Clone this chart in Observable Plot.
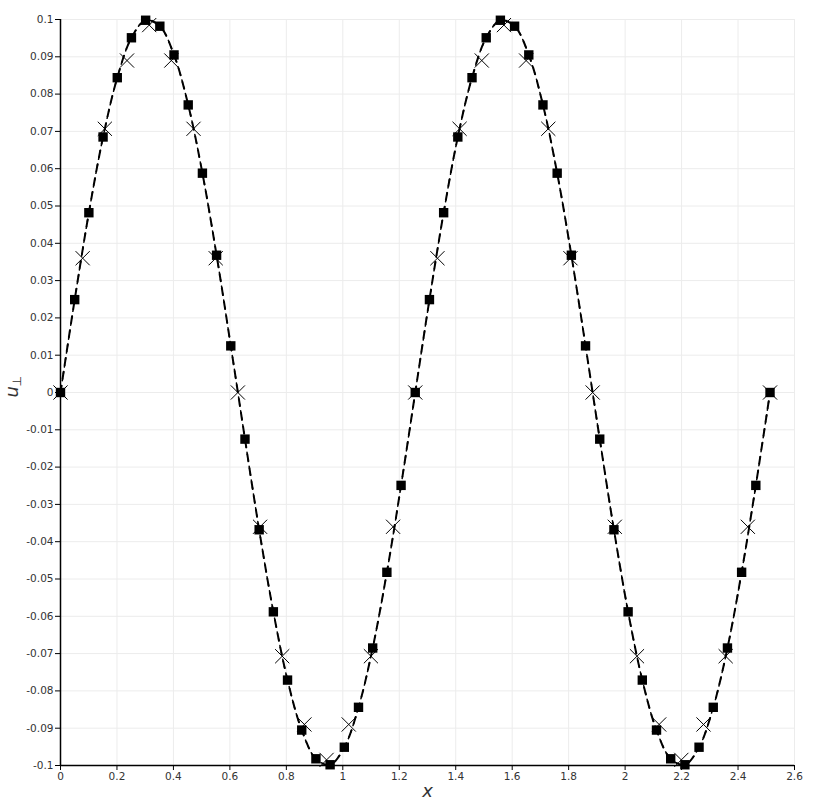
<!DOCTYPE html>
<html>
<head>
<meta charset="utf-8">
<script src="https://cdn.jsdelivr.net/npm/d3@7"></script>
<script src="https://cdn.jsdelivr.net/npm/@observablehq/plot@0.6"></script>
<style>
  html, body { margin: 0; padding: 0; background: #fff; }
  #chart svg { display: block; }
</style>
</head>
<body>
<div id="chart"></div>
<script>
// Square markers
const squareX = [0, 0.0503, 0.1005, 0.1508, 0.2011, 0.2513, 0.3016, 0.3519, 0.4021, 0.4524,
  0.5027, 0.5529, 0.6032, 0.6535, 0.7037, 0.7540, 0.8042, 0.8545, 0.9048, 0.9550,
  1.0053, 1.0556, 1.1058, 1.1561, 1.2064, 1.2566, 1.3069, 1.3572, 1.4074, 1.4577,
  1.5080, 1.5582, 1.6085, 1.6588, 1.7090, 1.7593, 1.8096, 1.8598, 1.9101, 1.9604,
  2.0106, 2.0609, 2.1112, 2.1614, 2.2117, 2.2619, 2.3122, 2.3625, 2.4127, 2.4630, 2.5133];
const squareU = [0, 0.0249, 0.0482, 0.0685, 0.0844, 0.0951, 0.0998, 0.0982, 0.0905, 0.0771,
  0.0588, 0.0368, 0.0125, -0.0125, -0.0368, -0.0588, -0.0771, -0.0905, -0.0982, -0.0998,
  -0.0951, -0.0844, -0.0685, -0.0482, -0.0249, 0, 0.0249, 0.0482, 0.0685, 0.0844,
  0.0951, 0.0998, 0.0982, 0.0905, 0.0771, 0.0588, 0.0368, 0.0125, -0.0125, -0.0368,
  -0.0588, -0.0771, -0.0905, -0.0982, -0.0998, -0.0951, -0.0844, -0.0685, -0.0482, -0.0249, 0];

// Cross markers
const crossX = [0, 0.0785, 0.1571, 0.2356, 0.3142, 0.3927, 0.4712, 0.5498, 0.6283, 0.7069,
  0.7854, 0.8639, 0.9425, 1.0210, 1.0996, 1.1781, 1.2566, 1.3352, 1.4137, 1.4923,
  1.5708, 1.6493, 1.7279, 1.8064, 1.8850, 1.9635, 2.0420, 2.1206, 2.1991, 2.2777,
  2.3562, 2.4347, 2.5133];
const crossU = [0, 0.036, 0.0707, 0.089, 0.0985, 0.089, 0.0707, 0.036, 0, -0.036,
  -0.0707, -0.089, -0.0985, -0.089, -0.0707, -0.036, 0, 0.036, 0.0707, 0.089,
  0.0985, 0.089, 0.0707, 0.036, 0, -0.036, -0.0707, -0.089, -0.0985, -0.089,
  -0.0707, -0.036, 0];

const xTicks = [0, 0.2, 0.4, 0.6, 0.8, 1, 1.2, 1.4, 1.6, 1.8, 2, 2.2, 2.4, 2.6];
const yTicks = [-0.1, -0.09, -0.08, -0.07, -0.06, -0.05, -0.04, -0.03, -0.02, -0.01, 0,
  0.01, 0.02, 0.03, 0.04, 0.05, 0.06, 0.07, 0.08, 0.09, 0.1];

const squares = squareX.map((x, i) => ({x, u: squareU[i]}));
const crosses = crossX.map((x, i) => ({x, u: crossU[i]}));
const fmt = d => String(+(+d).toFixed(2));

const chart = Plot.plot({
  width: 814,
  height: 806,
  marginLeft: 60,
  marginRight: 20,
  marginTop: 19,
  marginBottom: 41,
  style: {fontFamily: "'DejaVu Sans', sans-serif", fontSize: "10.5px", color: "#333", background: "#fff"},
  x: {domain: [0, 2.6]},
  y: {domain: [-0.1, 0.1]},
  marks: [
    Plot.gridX(xTicks, {stroke: "#ececec", strokeOpacity: 1}),
    Plot.gridY(yTicks, {stroke: "#ececec", strokeOpacity: 1}),
    Plot.axisX(xTicks, {tickSize: 5, tickPadding: 2, tickFormat: fmt, label: null, stroke: "#000"}),
    Plot.axisY(yTicks, {tickSize: 5, tickPadding: 2, tickFormat: fmt, label: null, stroke: "#000"}),
    Plot.ruleX([0], {stroke: "#000", strokeWidth: 1.5}),
    Plot.ruleY([-0.1], {stroke: "#000", strokeWidth: 1.5}),
    Plot.line(squares, {x: "x", y: "u", curve: "catmull-rom", stroke: "#000", strokeWidth: 2, strokeDasharray: "7,7"}),
    Plot.line(squares, {x: "x", y: "u", curve: "catmull-rom", stroke: "#000", strokeWidth: 1.5, strokeDasharray: "2,5", strokeDashoffset: 9}),
    Plot.dot(squares, {x: "x", y: "u", symbol: "square", fill: "#000", r: 5.3}),
    Plot.dot(crosses, {x: "x", y: "u", symbol: "times", stroke: "#000", strokeWidth: 1, r: 6.5}),
    Plot.text(["x"], {frameAnchor: "bottom", dy: 26, fontSize: 18, fontStyle: "italic", fill: "#333", lineAnchor: "middle"}),
    Plot.text(["u"], {frameAnchor: "left", dx: -48, dy: 5, rotate: -90, fontSize: 18, fontStyle: "italic", fill: "#333", lineAnchor: "middle"}),
    Plot.text(["⊥"], {frameAnchor: "left", dx: -43, dy: -6, rotate: -90, fontSize: 12, fill: "#333", lineAnchor: "middle"})
  ]
});
document.getElementById("chart").appendChild(chart);
</script>
</body>
</html>
